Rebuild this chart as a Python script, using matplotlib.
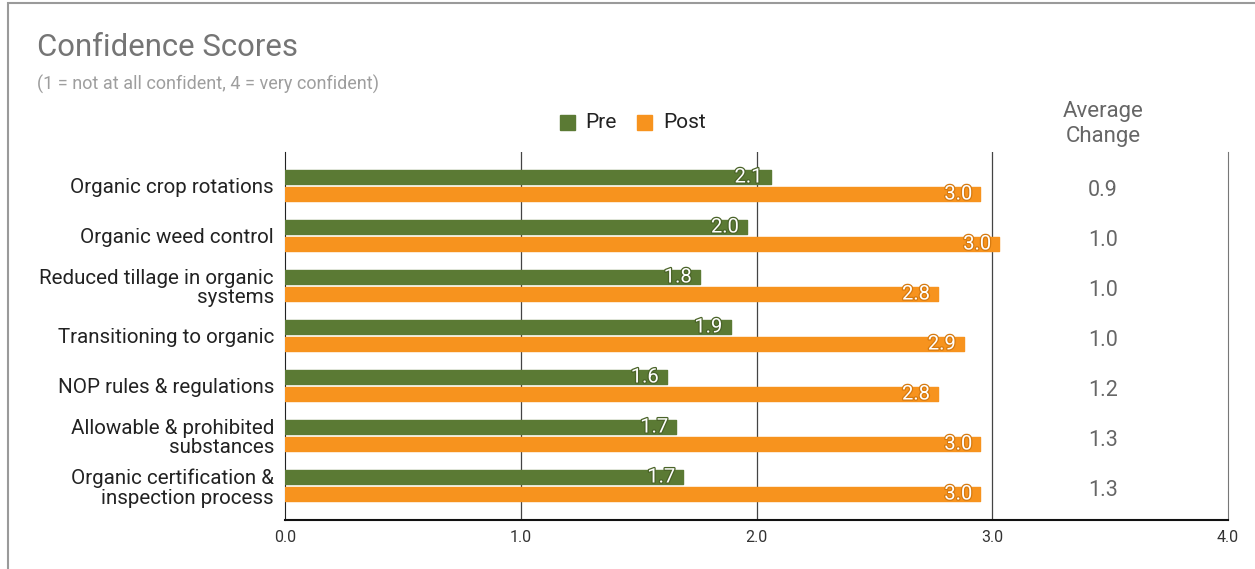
import matplotlib.pyplot as plt
import matplotlib.patheffects as pe
from matplotlib.patches import Rectangle
import numpy as np

plt.rcParams['font.family'] = ['Roboto', 'DejaVu Sans']

topics = ['Organic crop rotations', 'Organic weed control',
          'Reduced tillage in organic\nsystems', 'Transitioning to organic',
          'NOP rules & regulations', 'Allowable & prohibited\nsubstances',
          'Organic certification &\ninspection process']
pre = [2.06, 1.96, 1.76, 1.89, 1.62, 1.66, 1.69]
post = [2.95, 3.03, 2.77, 2.88, 2.77, 2.95, 2.95]
avg_change = ['0.9', '1.0', '1.0', '1.0', '1.2', '1.3', '1.3']

green = '#5b7a34'
orange = '#f7931e'

fig = plt.figure(figsize=(12.55, 5.69), dpi=100)
ax = fig.add_axes([285/1255, 1-520/569, (1228-285)/1255, (520-152)/569])

y = np.arange(len(topics))
h = 0.27
off = 0.17
ax.barh(y - off, pre, height=h, color=green, edgecolor=green, linewidth=1, joinstyle='round', zorder=3)
ax.barh(y + off, post, height=h, color=orange, edgecolor=orange, linewidth=1, joinstyle='round', zorder=3)

for i in range(len(topics)):
    ax.text(pre[i] - 0.035, y[i] - off, f'{pre[i]:.1f}', ha='right', va='center', color='white',
            fontsize=14.5, path_effects=[pe.withStroke(linewidth=1.8, foreground='#4a6328')], zorder=4)
    ax.text(post[i] - 0.035, y[i] + off, f'{post[i]:.1f}', ha='right', va='center', color='white',
            fontsize=14.5, path_effects=[pe.withStroke(linewidth=1.8, foreground='#d67a10')], zorder=4)

ax.set_xlim(0, 4)
ax.set_ylim(6.69, -0.67)
ax.set_xticks([0, 1, 2, 3, 4])
ax.set_xticklabels(['0.0', '1.0', '2.0', '3.0', '4.0'], fontsize=11.5, color='#333333')
ax.set_yticks(y)
ax.set_yticklabels(topics, fontsize=14.8, color='#222222', linespacing=1.05)
ax.tick_params(axis='x', length=0, pad=7)
ax.tick_params(axis='y', length=0, pad=8)
for xv in [1, 2, 3]:
    ax.axvline(xv, color='#444444', linewidth=0.9, zorder=1)
ax.spines['top'].set_visible(False)
ax.spines['right'].set_color('#777777')
ax.spines['left'].set_color('#222222')
ax.spines['bottom'].set_color('#111111')
ax.spines['bottom'].set_linewidth(1.5)

# average change column
for i in range(len(topics)):
    fig.text(1103/1255, 1 - (190 + 50*i)/569, avg_change[i], ha='center', va='center',
             fontsize=15.5, color='#666666')
fig.text(1103/1255, 1 - 124/569, 'Average\nChange', ha='center', va='center',
         fontsize=16, color='#666666', linespacing=1.25)

# title
fig.text(37/1255, 1 - 47/569, 'Confidence Scores', ha='left', va='center', fontsize=22.4, color='#757575')
fig.text(37/1255, 1 - 84/569, '(1 = not at all confident, 4 = very confident)', ha='left', va='center',
         fontsize=13, color='#9e9e9e')

# legend
fig.patches.append(Rectangle((560/1255, 1 - 130/569), 15/1255, 15/569, transform=fig.transFigure,
                             color=green))
fig.text(585/1255, 1 - 122/569, 'Pre', ha='left', va='center', fontsize=15, color='#222222')
fig.patches.append(Rectangle((637/1255, 1 - 130/569), 15/1255, 15/569, transform=fig.transFigure,
                             color=orange))
fig.text(663/1255, 1 - 122/569, 'Post', ha='left', va='center', fontsize=15, color='#222222')

# outer frame
fig.patches.append(Rectangle((8/1255, -0.01), 1.05, 1 - 3/569 + 0.01, transform=fig.transFigure,
                             fill=False, edgecolor='#9a9a9a', linewidth=1.5))

fig.savefig('out.png', dpi=100)
